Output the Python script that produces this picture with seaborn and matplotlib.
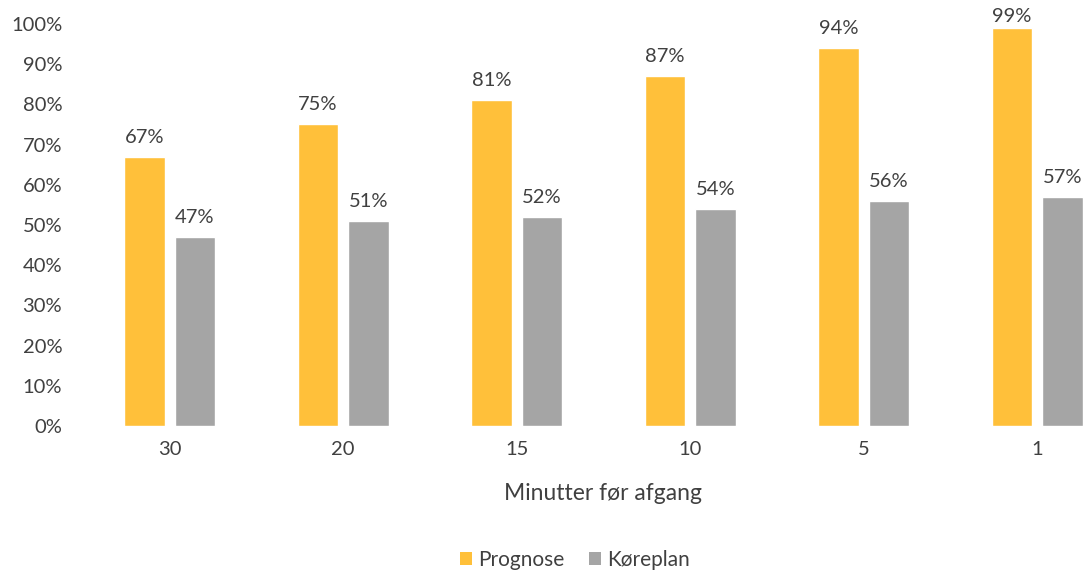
import matplotlib
matplotlib.use("Agg")
import matplotlib.pyplot as plt
import seaborn as sns
import pandas as pd
from matplotlib.ticker import FuncFormatter, MultipleLocator
from matplotlib.patches import Patch

categories = ["30", "20", "15", "10", "5", "1"]
prognose = [67, 75, 81, 87, 94, 99]
koreplan = [47, 51, 52, 54, 56, 57]
series_names = ["Prognose", "Køreplan"]
colors = ["#FFC03A", "#A5A5A5"]

df = pd.DataFrame({
    "Minutter": categories * 2,
    "Serie": [series_names[0]] * len(categories) + [series_names[1]] * len(categories),
    "Værdi": prognose + koreplan,
})

sns.set_theme(style="white")
plt.rcParams["font.family"] = ["Lato", "DejaVu Sans"]
text_color = "#404040"

fig = plt.figure(figsize=(10.85, 5.71), dpi=100)
ax = fig.add_axes([83 / 1085, 1 - 426 / 571, (1124 - 83) / 1085, (426 - 24) / 571])

sns.barplot(data=df, x="Minutter", y="Værdi", hue="Serie", order=categories,
            hue_order=series_names, palette=colors, width=0.58, gap=0.2,
            saturation=1, ax=ax, legend=False)

for cont in ax.containers:
    labels = ax.bar_label(cont, fmt="%d%%", padding=8, fontsize=14.5, color=text_color)
    for bar, lab in zip(cont, labels):
        if bar.get_height() > 96:
            lab.xyann = (0, 2)

ax.set_ylim(0, 100)
ax.set_xlim(-0.5, 5.5)
ax.yaxis.set_major_locator(MultipleLocator(10))
ax.yaxis.set_major_formatter(FuncFormatter(lambda v, p: f"{int(v)}%"))
ax.tick_params(axis="both", labelsize=14.5, colors=text_color, length=0)
ax.tick_params(axis="y", pad=15)
ax.tick_params(axis="x", pad=11)
for s in ax.spines.values():
    s.set_visible(False)
ax.grid(False)
ax.set_ylabel("")
ax.set_xlabel("Minutter før afgang", fontsize=16.5, color=text_color, labelpad=18)

handles = [Patch(facecolor=c, edgecolor="none") for c in colors]
fig.legend(handles, series_names, loc="center", bbox_to_anchor=(575 / 1085, 1 - 560 / 571),
           ncol=2, frameon=False, fontsize=15, labelcolor=text_color,
           handlelength=0.55, handleheight=0.55, handletextpad=0.3, columnspacing=1.2)

fig.savefig("out.png", dpi=100)
